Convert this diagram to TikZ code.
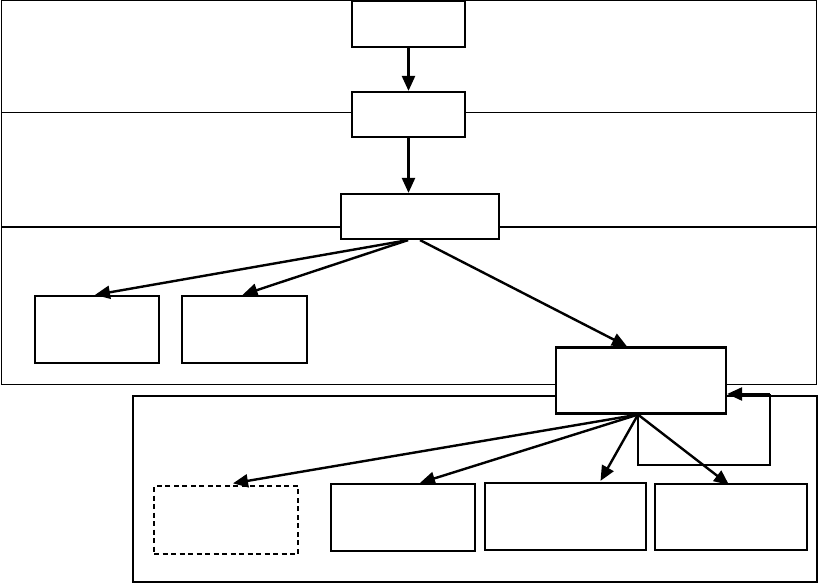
\documentclass[tikz,border=0pt]{standalone}
\usetikzlibrary{arrows.meta,calc}
\begin{document}
\begin{tikzpicture}[x=1pt,y=-1pt,
  bx/.style={draw,line width=2.2pt,fill=white,inner sep=0pt,minimum width=#1},
  dbx/.style={draw,line width=1.3pt,dash pattern=on 5pt off 3.5pt,fill=white,inner sep=0pt},
  band/.style={draw,line width=1pt},
  arr/.style={line width=2.4pt,-{Triangle[length=15pt,width=13pt]}},
  ln/.style={line width=2pt}]
\useasboundingbox (0,0) rectangle (819,585);
% bands
\draw[band] (1,1) rectangle (816,113);
\draw[band] (1,113) -- (1,227);
\draw[band] (816,113) -- (816,227);
\draw[band] (1,227) rectangle (816,384);
\draw[line width=2pt] (1,227) -- (816,227);
\draw[line width=2.2pt] (133,396) rectangle (817,582);
% boxes
\node[bx=113pt,minimum height=46pt] (A) at (408.5,24) {};
\node[bx=113pt,minimum height=45pt] (B) at (408.5,114.5) {};
\node[bx=158pt,minimum height=45pt] (C) at (420,216.5) {};
\node[bx=124pt,minimum height=67pt] (D) at (97,329.5) {};
\node[bx=125pt,minimum height=67pt] (E) at (244.5,329.5) {};
\node[bx=170pt,minimum height=66pt] (F) at (641,380.5) {};
\node[dbx,minimum width=144pt,minimum height=68pt] (G) at (226,520) {};
\node[bx=144pt,minimum height=67pt] (H) at (403,517.5) {};
\node[bx=161pt,minimum height=67pt] (I) at (565.5,516.5) {};
\node[bx=152pt,minimum height=66pt] (J) at (731,517) {};
% arrows
\draw[arr] (A.south) -- (B.north);
\draw[arr] (B.south) -- ([xshift=-11.5pt]C.north);
\draw[arr] ([xshift=-12pt]C.south) -- ([xshift=-2pt]D.north);
\draw[arr] ([xshift=-12pt]C.south) -- ([xshift=-2pt]E.north);
\draw[arr] (C.south) -- ([xshift=-14pt]F.north);
\coordinate (fs) at ([xshift=-3pt]F.south);
\draw[arr] (fs) -- ([xshift=7pt,yshift=2pt]G.north);
\draw[arr] (fs) -- ([xshift=17pt]H.north);
\draw[arr] (fs) -- ([xshift=35pt,yshift=1pt]I.north);
\draw[arr] (fs) -- ([xshift=-2pt,yshift=-2pt]J.north);
\coordinate (l1) at (638,465);
\coordinate (l2) at (770,465);
\coordinate (l3) at (770,394);
\draw[ln] (fs) -- (l1) -- (l2) -- (l3);
\draw[arr] (l3) -- ([yshift=-13.5pt]F.east);
\end{tikzpicture}
\end{document}
